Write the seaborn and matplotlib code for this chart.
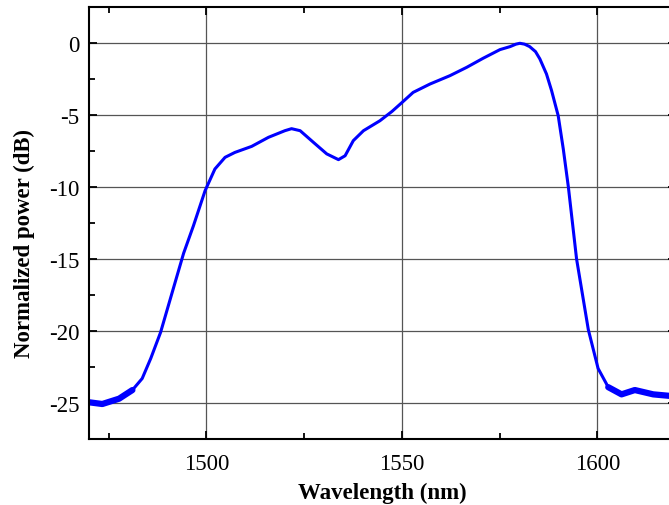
import numpy as np
import pandas as pd
import seaborn as sns
import matplotlib.pyplot as plt
from matplotlib.ticker import MultipleLocator

# values
wavelength = [1470.0, 1473.4, 1477.7, 1481.1, 1483.6, 1485.8, 1488.3, 1491.3,
              1494.2, 1496.7, 1499.7, 1502.2, 1504.8, 1507.3, 1511.6, 1515.9,
              1520.1, 1521.8, 1524.0, 1527.4, 1530.8, 1533.8, 1535.5, 1537.6,
              1540.2, 1544.4, 1547.5, 1550.1, 1552.9, 1557.2, 1562.3, 1566.6,
              1570.8, 1575.1, 1577.7, 1579.2, 1580.2, 1581.4, 1582.7, 1584.2,
              1585.3, 1587.0, 1588.3, 1590.0, 1591.3, 1592.6, 1594.7, 1597.7,
              1600.2, 1602.8, 1606.2, 1609.6, 1614.3, 1618.3, 1620.0]
power = [-24.95, -25.07, -24.7, -24.1, -23.3, -21.9, -20.1, -17.3,
         -14.6, -12.7, -10.25, -8.75, -7.94, -7.6, -7.18, -6.55,
         -6.09, -5.95, -6.09, -6.9, -7.7, -8.1, -7.83, -6.78,
         -6.09, -5.4, -4.75, -4.12, -3.43, -2.85, -2.27, -1.69,
         -1.06, -0.46, -0.25, -0.08, -0.02, -0.08, -0.25, -0.6,
         -1.1, -2.15, -3.3, -5.05, -7.36, -10.0, -15.0, -19.9,
         -22.6, -23.9, -24.4, -24.1, -24.4, -24.5, -24.5]

df = pd.DataFrame({"Wavelength": wavelength, "Power": power})

sns.set_theme(style="ticks")
plt.rcParams['font.family'] = ['Liberation Serif', 'DejaVu Serif']
plt.rcParams['axes.unicode_minus'] = False

fig = plt.figure(figsize=(6.69, 5.06), dpi=100)
ax = fig.add_axes([89/669, 66/506, 586.5/669, 432/506])

sns.lineplot(data=df, x="Wavelength", y="Power", ax=ax, color="#0000ff",
             linewidth=2.2, sort=False)
# noisy tails look like a thicker trace
tails = [df[df.Wavelength <= 1482], df[df.Wavelength >= 1602]]
for t in tails:
    ax.plot(t.Wavelength, t.Power, color="#0000ff", linewidth=4.5,
            solid_capstyle="round")

ax.set_xlim(1470, 1620)
ax.set_ylim(-27.5, 2.5)
ax.xaxis.set_major_locator(MultipleLocator(50))
ax.xaxis.set_minor_locator(MultipleLocator(25))
ax.yaxis.set_major_locator(MultipleLocator(5))
ax.yaxis.set_minor_locator(MultipleLocator(2.5))

ax.grid(True, which="major", color="#555555", linewidth=0.9)
ax.tick_params(which="both", direction="in", top=True, right=True,
               color="black", width=1.3, labelsize=16.5, labelcolor="black")
ax.tick_params(axis="x", pad=10)
ax.tick_params(axis="y", pad=7)
ax.tick_params(which="major", length=6)
ax.tick_params(which="minor", length=4)
for s in ax.spines.values():
    s.set_linewidth(1.5)
    s.set_color("black")

ax.set_xlabel("Wavelength (nm)", fontsize=16.5, fontweight="bold",
              color="black")
ax.set_ylabel("Normalized power (dB)", fontsize=16.5, fontweight="bold",
              color="black")
ax.xaxis.set_label_coords(0.5, -0.1)
ax.yaxis.set_label_coords(-0.092, 0.456)

fig.savefig("out.png", dpi=100)
